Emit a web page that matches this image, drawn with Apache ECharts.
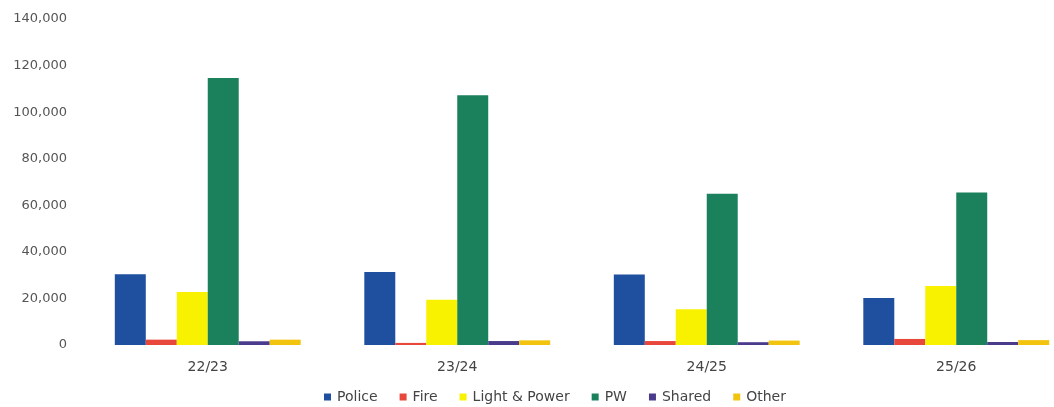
<!DOCTYPE html>
<html>
<head>
<meta charset="utf-8">
<script src="https://cdn.jsdelivr.net/npm/echarts@6/dist/echarts.min.js"></script>
<style>
html,body{margin:0;padding:0;background:#fff;}
#c{width:1054px;height:407px;}
</style>
</head>
<body>
<div id="c"></div>
<script>
var categories = ['22/23', '23/24', '24/25', '25/26'];
var seriesNames = ['Police', 'Fire', 'Light & Power', 'PW', 'Shared', 'Other'];
var police = [30400, 31400, 30300, 20200];
var fire = [2300, 900, 1700, 2600];
var lightPower = [22800, 19400, 15400, 25300];
var pw = [114700, 107300, 65000, 65500];
var shared = [1600, 1700, 1200, 1300];
var other = [2300, 2000, 1900, 2100];
var yTicks = [0, 20000, 40000, 60000, 80000, 100000, 120000, 140000];
var colors = ['#1f4f9f', '#e8483b', '#f8f200', '#1b805c', '#4a3b8c', '#f2c40f'];

var values = [police, fire, lightPower, pw, shared, other];
var chart = echarts.init(document.getElementById('c'));
var font = 'DejaVu Sans';
chart.setOption({
  animation: false,
  color: colors,
  grid: { left: 83, right: -27, top: 19, bottom: 62, containLabel: false, outerBoundsMode: 'none' },
  legend: {
    top: 385,
    left: 319,
    itemWidth: 7,
    itemHeight: 7,
    itemGap: 22,
    icon: 'rect',
    textStyle: { fontFamily: font, fontSize: 14, color: '#444', padding: [0, 0, 0, 1] },
    data: seriesNames
  },
  xAxis: {
    type: 'category',
    data: categories,
    axisLine: { show: false },
    axisTick: { show: false },
    axisLabel: { fontFamily: font, fontSize: 14, color: '#444', margin: 15 }
  },
  yAxis: {
    type: 'value',
    min: yTicks[0],
    max: yTicks[yTicks.length - 1],
    interval: yTicks[1] - yTicks[0],
    splitLine: { show: false },
    axisLine: { show: false },
    axisTick: { show: false },
    axisLabel: {
      fontFamily: font, fontSize: 13, color: '#555', margin: 16,
      formatter: function (v) { return v.toLocaleString('en-US'); }
    }
  },
  series: seriesNames.map(function (n, i) {
    return {
      name: n,
      type: 'bar',
      data: values[i],
      barGap: '0%',
      barCategoryGap: '25.5%'
    };
  })
});
</script>
</body>
</html>
